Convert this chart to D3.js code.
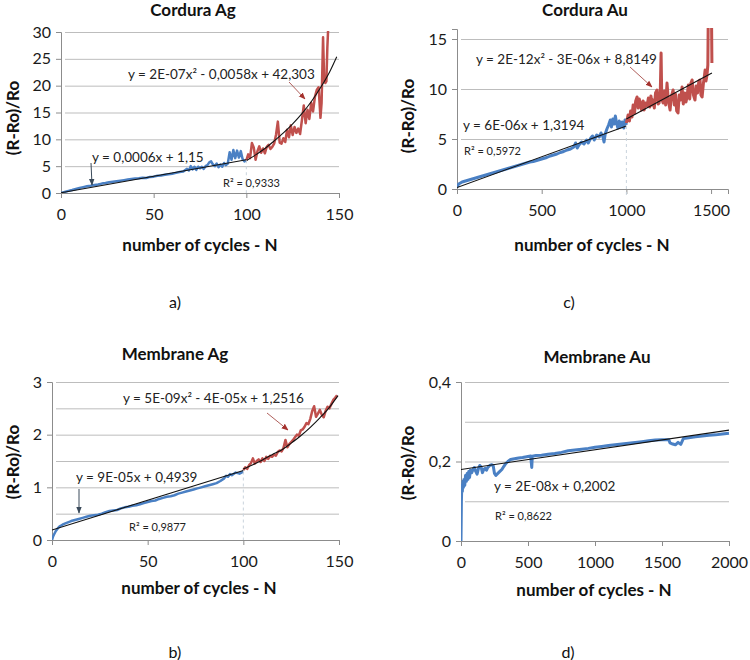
<!DOCTYPE html>
<html>
<head>
<meta charset="utf-8">
<script src="https://cdn.jsdelivr.net/npm/d3@7"></script>
<style>
  html, body { margin: 0; padding: 0; background: #fff; }
  svg { display: block; font-family: Lato, "Open Sans", sans-serif; }
</style>
</head>
<body>
<svg id="chart" width="750" height="660"></svg>
<script>
// ---------------- DATA ----------------
// a) Cordura Ag  [N, (R-Ro)/Ro]
const cordAgBlue = [[0,0],[2,0.2],[4,0.4],[6,0.55],[8,0.75],[10,0.95],[12,1.1],[14,1.25],[16,1.35],[18,1.5],[20,1.6],[22,1.75],[24,1.85],[26,2.0],[28,2.1],[30,2.2],[32,2.3],[34,2.4],[36,2.5],[38,2.6],[40,2.7],[42,2.75],[44,2.85],[46,2.8],[48,3.0],[50,3.05],[52,3.2],[54,3.25],[56,3.4],[58,3.5],[60,3.6],[62,3.75],[64,3.9],[66,4.0],[68,4.5],[69,4.2],[70,5.0],[71,4.4],[72,4.9],[73,4.3],[74,4.9],[75,4.6],[76,4.9],[77,4.5],[78,5.0],[79,5.2],[80,5.7],[81,5.9],[82,5.3],[83,5.0],[84,5.5],[85,4.8],[86,5.3],[87,4.9],[88,5.6],[89,5.2],[90,5.5],[91,7.6],[92,6.2],[93,8.0],[94,6.5],[95,7.9],[96,6.6],[97,7.8],[98,6.3],[99,5.9],[100,6.1]];
const cordAgRed = [[100,6.1],[101,7.2],[102,6.5],[103,9.3],[104,8.5],[105,6.2],[106,7.8],[107,8.7],[108,7.5],[109,8.3],[110,7.4],[111,8.6],[112,9.0],[113,8.2],[114,8.6],[115,9.2],[116,10.8],[117,13.3],[118,9.4],[119,9.2],[120,10.2],[121,9.5],[122,11.8],[123,10.4],[124,12.6],[125,10.8],[126,12.3],[127,11.2],[128,12.0],[129,11.0],[130,13.6],[131,16.3],[132,13.0],[133,15.5],[134,13.8],[135,16.8],[136,15.2],[137,17.9],[138,19.2],[139,19.7],[140,14.0],[140.6,16.8],[141.4,29.0],[142,21.0],[142.6,20.5],[143.2,20.8],[143.7,27.0],[144.2,31.0]];
const cordAgBlueFit = [[0,0.05],[100,6.2]];
const cordAgRedFit = [[100,6.0],[105,7.1],[110,8.3],[115,9.7],[120,11.2],[125,12.9],[130,14.8],[135,17.0],[140,19.6],[145,22.6],[148.8,25.4]];
const cordAgXTicks = [0,50,100,150];
const cordAgYTicks = [0,5,10,15,20,25,30];
const cordAgYGrid = [0,5,10,15,20,25,30];

// c) Cordura Au
const cordAuBlue = [[0,0.2],[10,0.5],[20,0.6],[30,0.7],[50,0.8],[70,0.9],[90,1.0],[110,1.1],[130,1.2],[150,1.3],[170,1.4],[190,1.5],[210,1.6],[230,1.7],[250,1.8],[270,1.9],[290,2.0],[310,2.1],[330,2.2],[350,2.3],[370,2.4],[390,2.5],[410,2.6],[430,2.7],[450,2.75],[470,2.85],[490,2.95],[510,3.05],[530,3.15],[550,3.3],[570,3.4],[590,3.5],[610,3.65],[630,3.75],[650,3.9],[670,4.0],[690,4.2],[700,4.6],[710,4.1],[720,4.4],[735,4.7],[750,4.5],[765,4.9],[775,4.6],[790,5.1],[800,5.3],[810,4.9],[825,5.4],[840,5.2],[850,5.6],[860,5.3],[868,4.7],[875,5.5],[885,6.0],[895,6.4],[905,6.9],[912,6.2],[920,7.0],[928,6.5],[935,7.3],[942,6.6],[950,6.1],[958,6.8],[965,6.2],[975,6.7],[985,6.1],[992,6.9],[1000,6.4]];
const cordAuRed = [[1000,6.6],[1010,7.4],[1018,6.8],[1025,7.8],[1033,7.2],[1040,8.4],[1048,7.6],[1055,8.8],[1063,9.2],[1070,8.1],[1076,9.0],[1081,8.7],[1090,7.9],[1099,8.8],[1105,7.9],[1112,8.6],[1122,8.3],[1130,9.1],[1138,8.2],[1145,9.3],[1152,8.4],[1157,8.9],[1165,8.1],[1172,9.6],[1181,9.9],[1188,8.5],[1193,8.6],[1200,9.6],[1205,13.6],[1209,9.0],[1217,8.6],[1225,9.8],[1232,8.4],[1240,10.6],[1248,8.8],[1258,7.9],[1265,9.2],[1276,9.9],[1283,8.4],[1290,9.5],[1297,7.8],[1305,7.6],[1312,9.4],[1320,8.9],[1329,10.2],[1336,8.5],[1345,9.6],[1352,8.7],[1358,9.2],[1366,10.4],[1374,9.0],[1381,10.6],[1388,10.9],[1396,9.4],[1405,8.9],[1412,10.3],[1420,9.6],[1428,10.8],[1435,10.9],[1440,9.4],[1447,9.2],[1455,10.6],[1460,11.2],[1465,11.9],[1470,10.8],[1476,11.4],[1481,12.4],[1483,16.5],[1490,16.5],[1497,16.5],[1503,16.5],[1505,12.6]];
const cordAuBlueFit = [[0,0.15],[1000,6.3]];
const cordAuRedFit = [[1000,7.0],[1505,11.6]];
const cordAuXTicks = [0,500,1000,1500];
const cordAuYTicks = [0,5,10,15];
const cordAuYGrid = [0,5,10,15];

// b) Membrane Ag
const memAgBlue = [[0,0],[0.5,0.06],[1,0.1],[2,0.17],[3,0.22],[4,0.26],[5,0.28],[6,0.3],[8,0.33],[10,0.36],[12,0.38],[14,0.4],[16,0.42],[18,0.44],[20,0.46],[22,0.47],[24,0.48],[26,0.5],[28,0.53],[30,0.55],[32,0.56],[34,0.57],[36,0.6],[38,0.62],[40,0.63],[42,0.65],[44,0.66],[46,0.68],[48,0.7],[50,0.72],[52,0.74],[54,0.75],[56,0.78],[58,0.8],[60,0.82],[62,0.83],[64,0.85],[66,0.88],[68,0.9],[70,0.92],[72,0.94],[74,0.96],[76,0.98],[78,1.0],[80,1.02],[82,1.04],[84,1.06],[86,1.08],[88,1.12],[90,1.17],[91,1.22],[92,1.2],[93,1.25],[94,1.23],[96,1.28],[98,1.26],[100,1.3]];
const memAgRed = [[100,1.33],[101,1.38],[102,1.35],[103,1.42],[104,1.46],[105,1.55],[106,1.45],[107,1.5],[108,1.53],[109,1.48],[110,1.55],[111,1.5],[112,1.58],[113,1.54],[114,1.6],[115,1.58],[116,1.62],[117,1.6],[118,1.67],[119,1.7],[120,1.68],[121,1.75],[122,1.9],[123,1.76],[124,1.82],[125,1.86],[126,1.9],[127,1.95],[128,2.0],[129,1.98],[130,2.08],[131,2.1],[132,2.15],[133,2.22],[134,2.2],[135,2.3],[136,2.45],[137,2.54],[138,2.34],[139,2.4],[140,2.47],[141,2.38],[142,2.33],[143,2.45],[144,2.53],[145,2.5],[146,2.58],[147,2.66],[148,2.7],[149,2.75]];
const memAgBlueFit = [[0,0.19],[100,1.32]];
const memAgRedFit = [[100,1.35],[105,1.43],[110,1.52],[115,1.62],[120,1.71],[125,1.84],[130,1.98],[135,2.14],[140,2.32],[145,2.52],[149.5,2.74]];
const memAgXTicks = [0,50,100,150];
const memAgYTicks = [0,1,2,3];
const memAgYGrid = [0,0.5,1,1.5,2,2.5,3];

// d) Membrane Au
const memAuBlue = [[0,0],[3,0.1],[6,0.14],[10,0.125],[14,0.15],[18,0.135],[22,0.155],[28,0.14],[34,0.165],[40,0.15],[46,0.17],[52,0.155],[58,0.175],[64,0.16],[70,0.178],[80,0.172],[90,0.18],[100,0.185],[110,0.175],[120,0.168],[130,0.182],[140,0.19],[150,0.186],[160,0.172],[170,0.18],[180,0.183],[190,0.178],[200,0.185],[215,0.19],[230,0.192],[240,0.19],[250,0.17],[260,0.165],[275,0.17],[290,0.175],[305,0.18],[320,0.188],[335,0.195],[350,0.2],[370,0.205],[400,0.207],[430,0.209],[460,0.21],[490,0.212],[520,0.214],[528,0.185],[532,0.213],[560,0.215],[600,0.216],[650,0.218],[700,0.22],[750,0.223],[800,0.227],[850,0.229],[900,0.231],[950,0.233],[1000,0.236],[1050,0.238],[1100,0.24],[1150,0.242],[1200,0.244],[1250,0.246],[1300,0.248],[1350,0.25],[1400,0.252],[1450,0.254],[1500,0.255],[1550,0.255],[1560,0.247],[1580,0.244],[1600,0.242],[1620,0.248],[1640,0.243],[1660,0.258],[1700,0.26],[1750,0.262],[1800,0.264],[1850,0.266],[1900,0.267],[1950,0.269],[2000,0.271]];
const memAuFit = [[0,0.18],[2000,0.279]];
const memAuXTicks = [0,500,1000,1500,2000];
const memAuYTicks = [0,0.2,0.4];
const memAuYGrid = [0,0.1,0.2,0.3,0.4];

const yAxisTitle = "(R-Ro)/Ro";
const xAxisTitle = "number of cycles - N";

// ---------------- DRAWING ----------------
const svg = d3.select("#chart");
const BLUE = "#4a80c4", RED = "#c0504d";
const commaFmt = d => String(d).replace(".", ",");

const defs = svg.append("defs");
["redHead", "darkHead"].forEach((id, i) => {
  defs.append("marker").attr("id", id).attr("viewBox", "0 0 10 10")
    .attr("refX", 9).attr("refY", 5).attr("markerWidth", 7).attr("markerHeight", 7)
    .attr("orient", "auto-start-reverse")
    .append("path").attr("d", "M0,1 L10,5 L0,9 z").attr("fill", i === 0 ? "#a5322e" : "#3a4a5a");
});

function panel(cfg, idx) {
  const x = d3.scaleLinear().domain(cfg.xDom).range([cfg.left, cfg.right]);
  const y = d3.scaleLinear().domain(cfg.yDom).range([cfg.bottom, cfg.top]);
  const g = svg.append("g");

  // gridlines
  g.append("g").attr("transform", `translate(${cfg.left},0)`)
    .call(d3.axisLeft(y).tickValues(cfg.yGrid).tickSize(-(cfg.right - cfg.left)).tickFormat(""))
    .call(s => s.select(".domain").remove())
    .call(s => s.selectAll("line").attr("stroke", "#bdbdbd").attr("x1", 4));
  // y axis ticks & labels
  g.append("g").attr("transform", `translate(${cfg.left},0)`)
    .call(d3.axisLeft(y).tickValues(cfg.yTicks).tickSize(5).tickPadding(5).tickFormat(commaFmt))
    .call(s => s.select(".domain").attr("stroke", "#8c8c8c"))
    .call(s => s.selectAll("line").attr("stroke", "#8c8c8c"))
    .call(s => s.selectAll("text").attr("font-size", 16).attr("fill", "#1a1a1a").attr("font-family", "Lato, sans-serif"));
  // x axis
  g.append("g").attr("transform", `translate(0,${cfg.bottom})`)
    .call(d3.axisBottom(x).tickValues(cfg.xTicks).tickSize(5).tickPadding(11).tickFormat(d3.format("d")))
    .call(s => s.select(".domain").attr("stroke", "#8c8c8c"))
    .call(s => s.selectAll("line").attr("stroke", "#8c8c8c"))
    .call(s => s.selectAll("text").attr("font-size", 16).attr("fill", "#1a1a1a").attr("font-family", "Lato, sans-serif"));

  // clip
  const cid = "clip" + idx;
  defs.append("clipPath").attr("id", cid).append("rect")
    .attr("x", cfg.left).attr("y", cfg.top - 1).attr("width", cfg.right - cfg.left + 4).attr("height", cfg.bottom - cfg.top + 1);

  const plot = g.append("g").attr("clip-path", `url(#${cid})`);

  // dashed separator
  if (cfg.dash) {
    g.append("line").attr("x1", x(cfg.dash[0])).attr("x2", x(cfg.dash[0]))
      .attr("y1", y(cfg.dash[1])).attr("y2", cfg.bottom + (cfg.dashExtra || 0))
      .attr("stroke", "#c9d3dc").attr("stroke-width", 1).attr("stroke-dasharray", "3,3");
  }

  const line = d3.line().x(d => x(d[0])).y(d => y(d[1]));
  const smooth = d3.line().x(d => x(d[0])).y(d => y(d[1])).curve(d3.curveMonotoneX);
  cfg.series.forEach(s => {
    plot.append("path").datum(s.data).attr("d", line).attr("fill", "none")
      .attr("stroke", s.color).attr("stroke-width", s.w || 2.5).attr("stroke-linejoin", "round");
  });
  cfg.fits.forEach(f => {
    plot.append("path").datum(f).attr("d", smooth).attr("fill", "none")
      .attr("stroke", "#111").attr("stroke-width", 1.1);
  });

  // titles
  g.append("text").attr("x", cfg.titleX).attr("y", cfg.titleY).attr("dy", "0.35em")
    .attr("text-anchor", "middle").attr("font-weight", "bold").attr("font-size", 17).attr("fill", "#111").text(cfg.title);
  g.append("text").attr("transform", `translate(${cfg.ylabX},${cfg.ylabY}) rotate(-90)`).attr("dy", "0.35em")
    .attr("text-anchor", "middle").attr("font-weight", "bold").attr("font-size", 17).attr("fill", "#111").text(yAxisTitle);
  g.append("text").attr("x", cfg.xlabX).attr("y", cfg.xlabY).attr("dy", "0.35em")
    .attr("text-anchor", "middle").attr("font-weight", "bold").attr("font-size", 17).attr("fill", "#111").text(xAxisTitle);
  g.append("text").attr("x", cfg.letterX).attr("y", cfg.letterY).attr("dy", "0.35em")
    .attr("text-anchor", "middle").attr("font-size", 16).attr("fill", "#111").text(cfg.letter);

  // annotations
  cfg.notes.forEach(n => {
    g.append("text").attr("x", n.x).attr("y", n.y).attr("dy", "0.35em")
      .attr("font-size", n.size).attr("fill", "#222").text(n.t);
  });
  cfg.arrows.forEach(a => {
    g.append("line").attr("x1", a.x1).attr("y1", a.y1).attr("x2", a.x2).attr("y2", a.y2)
      .attr("stroke", a.red ? "#b0605c" : "#3a4a5a").attr("stroke-width", 1)
      .attr("marker-end", a.red ? "url(#redHead)" : "url(#darkHead)");
  });
}

const panels = [
  { xDom: [0, 150], yDom: [0, 30], left: 61, right: 339, top: 32, bottom: 193,
    xTicks: cordAgXTicks, yTicks: cordAgYTicks, yGrid: cordAgYGrid,
    series: [{ data: cordAgBlue, color: BLUE }, { data: cordAgRed, color: RED }],
    fits: [cordAgBlueFit, cordAgRedFit], dash: [100, 6.1],
    title: "Cordura Ag", titleX: 193, titleY: 10, ylabX: 13, ylabY: 118, xlabX: 200, xlabY: 245,
    letter: "a)", letterX: 175, letterY: 302,
    notes: [{ t: "y = 0,0006x + 1,15", x: 92, y: 157, size: 13.5 },
            { t: "y = 2E-07x² - 0,0058x + 42,303", x: 128, y: 74, size: 13.5 },
            { t: "R² = 0,9333", x: 223, y: 183, size: 11 }],
    arrows: [{ x1: 91, y1: 163, x2: 92, y2: 185 }, { x1: 289, y1: 82, x2: 305, y2: 99, red: true }] },
  { xDom: [0, 1600], yDom: [0, 16], left: 457, right: 728, top: 29, bottom: 189,
    xTicks: cordAuXTicks, yTicks: cordAuYTicks, yGrid: cordAuYGrid,
    series: [{ data: cordAuBlue, color: BLUE, w: 3 }, { data: cordAuRed, color: RED, w: 3 }],
    fits: [cordAuBlueFit, cordAuRedFit], dash: [1000, 6.3], dashExtra: 6,
    title: "Cordura Au", titleX: 585, titleY: 10, ylabX: 408, ylabY: 116, xlabX: 592, xlabY: 245,
    letter: "c)", letterX: 569, letterY: 302,
    notes: [{ t: "y = 2E-12x² - 3E-06x + 8,8149", x: 476, y: 59, size: 13.5 },
            { t: "y = 6E-06x + 1,3194", x: 463, y: 125, size: 13.5 },
            { t: "R² = 0,5972", x: 464, y: 151, size: 11 }],
    arrows: [{ x1: 630, y1: 67, x2: 652, y2: 87, red: true }] },
  { xDom: [0, 150], yDom: [0, 3], left: 52, right: 339, top: 382, bottom: 540,
    xTicks: memAgXTicks, yTicks: memAgYTicks, yGrid: memAgYGrid,
    series: [{ data: memAgBlue, color: BLUE }, { data: memAgRed, color: RED }],
    fits: [memAgBlueFit, memAgRedFit], dash: [100, 1.3],
    title: "Membrane Ag", titleX: 175, titleY: 354, ylabX: 13, ylabY: 462, xlabX: 199, xlabY: 588,
    letter: "b)", letterX: 175, letterY: 652,
    notes: [{ t: "y = 5E-09x² - 4E-05x + 1,2516", x: 123, y: 398, size: 13.5 },
            { t: "y = 9E-05x + 0,4939", x: 76, y: 477, size: 13.5 },
            { t: "R² = 0,9877", x: 129, y: 527, size: 11 }],
    arrows: [{ x1: 267, y1: 413, x2: 288, y2: 430, red: true }, { x1: 79, y1: 489, x2: 79, y2: 513 }] },
  { xDom: [0, 2000], yDom: [0, 0.4], left: 461, right: 729, top: 382, bottom: 541,
    xTicks: memAuXTicks, yTicks: memAuYTicks, yGrid: memAuYGrid,
    series: [{ data: memAuBlue, color: BLUE, w: 3 }],
    fits: [memAuFit], dash: null,
    title: "Membrane Au", titleX: 597, titleY: 357, ylabX: 408, ylabY: 463, xlabX: 594, xlabY: 590,
    letter: "d)", letterX: 568, letterY: 652,
    notes: [{ t: "y = 2E-08x + 0,2002", x: 494, y: 486, size: 13.5 },
            { t: "R² = 0,8622", x: 495, y: 516, size: 11 }],
    arrows: [] }
];
panels.forEach(panel);
</script>
</body>
</html>
